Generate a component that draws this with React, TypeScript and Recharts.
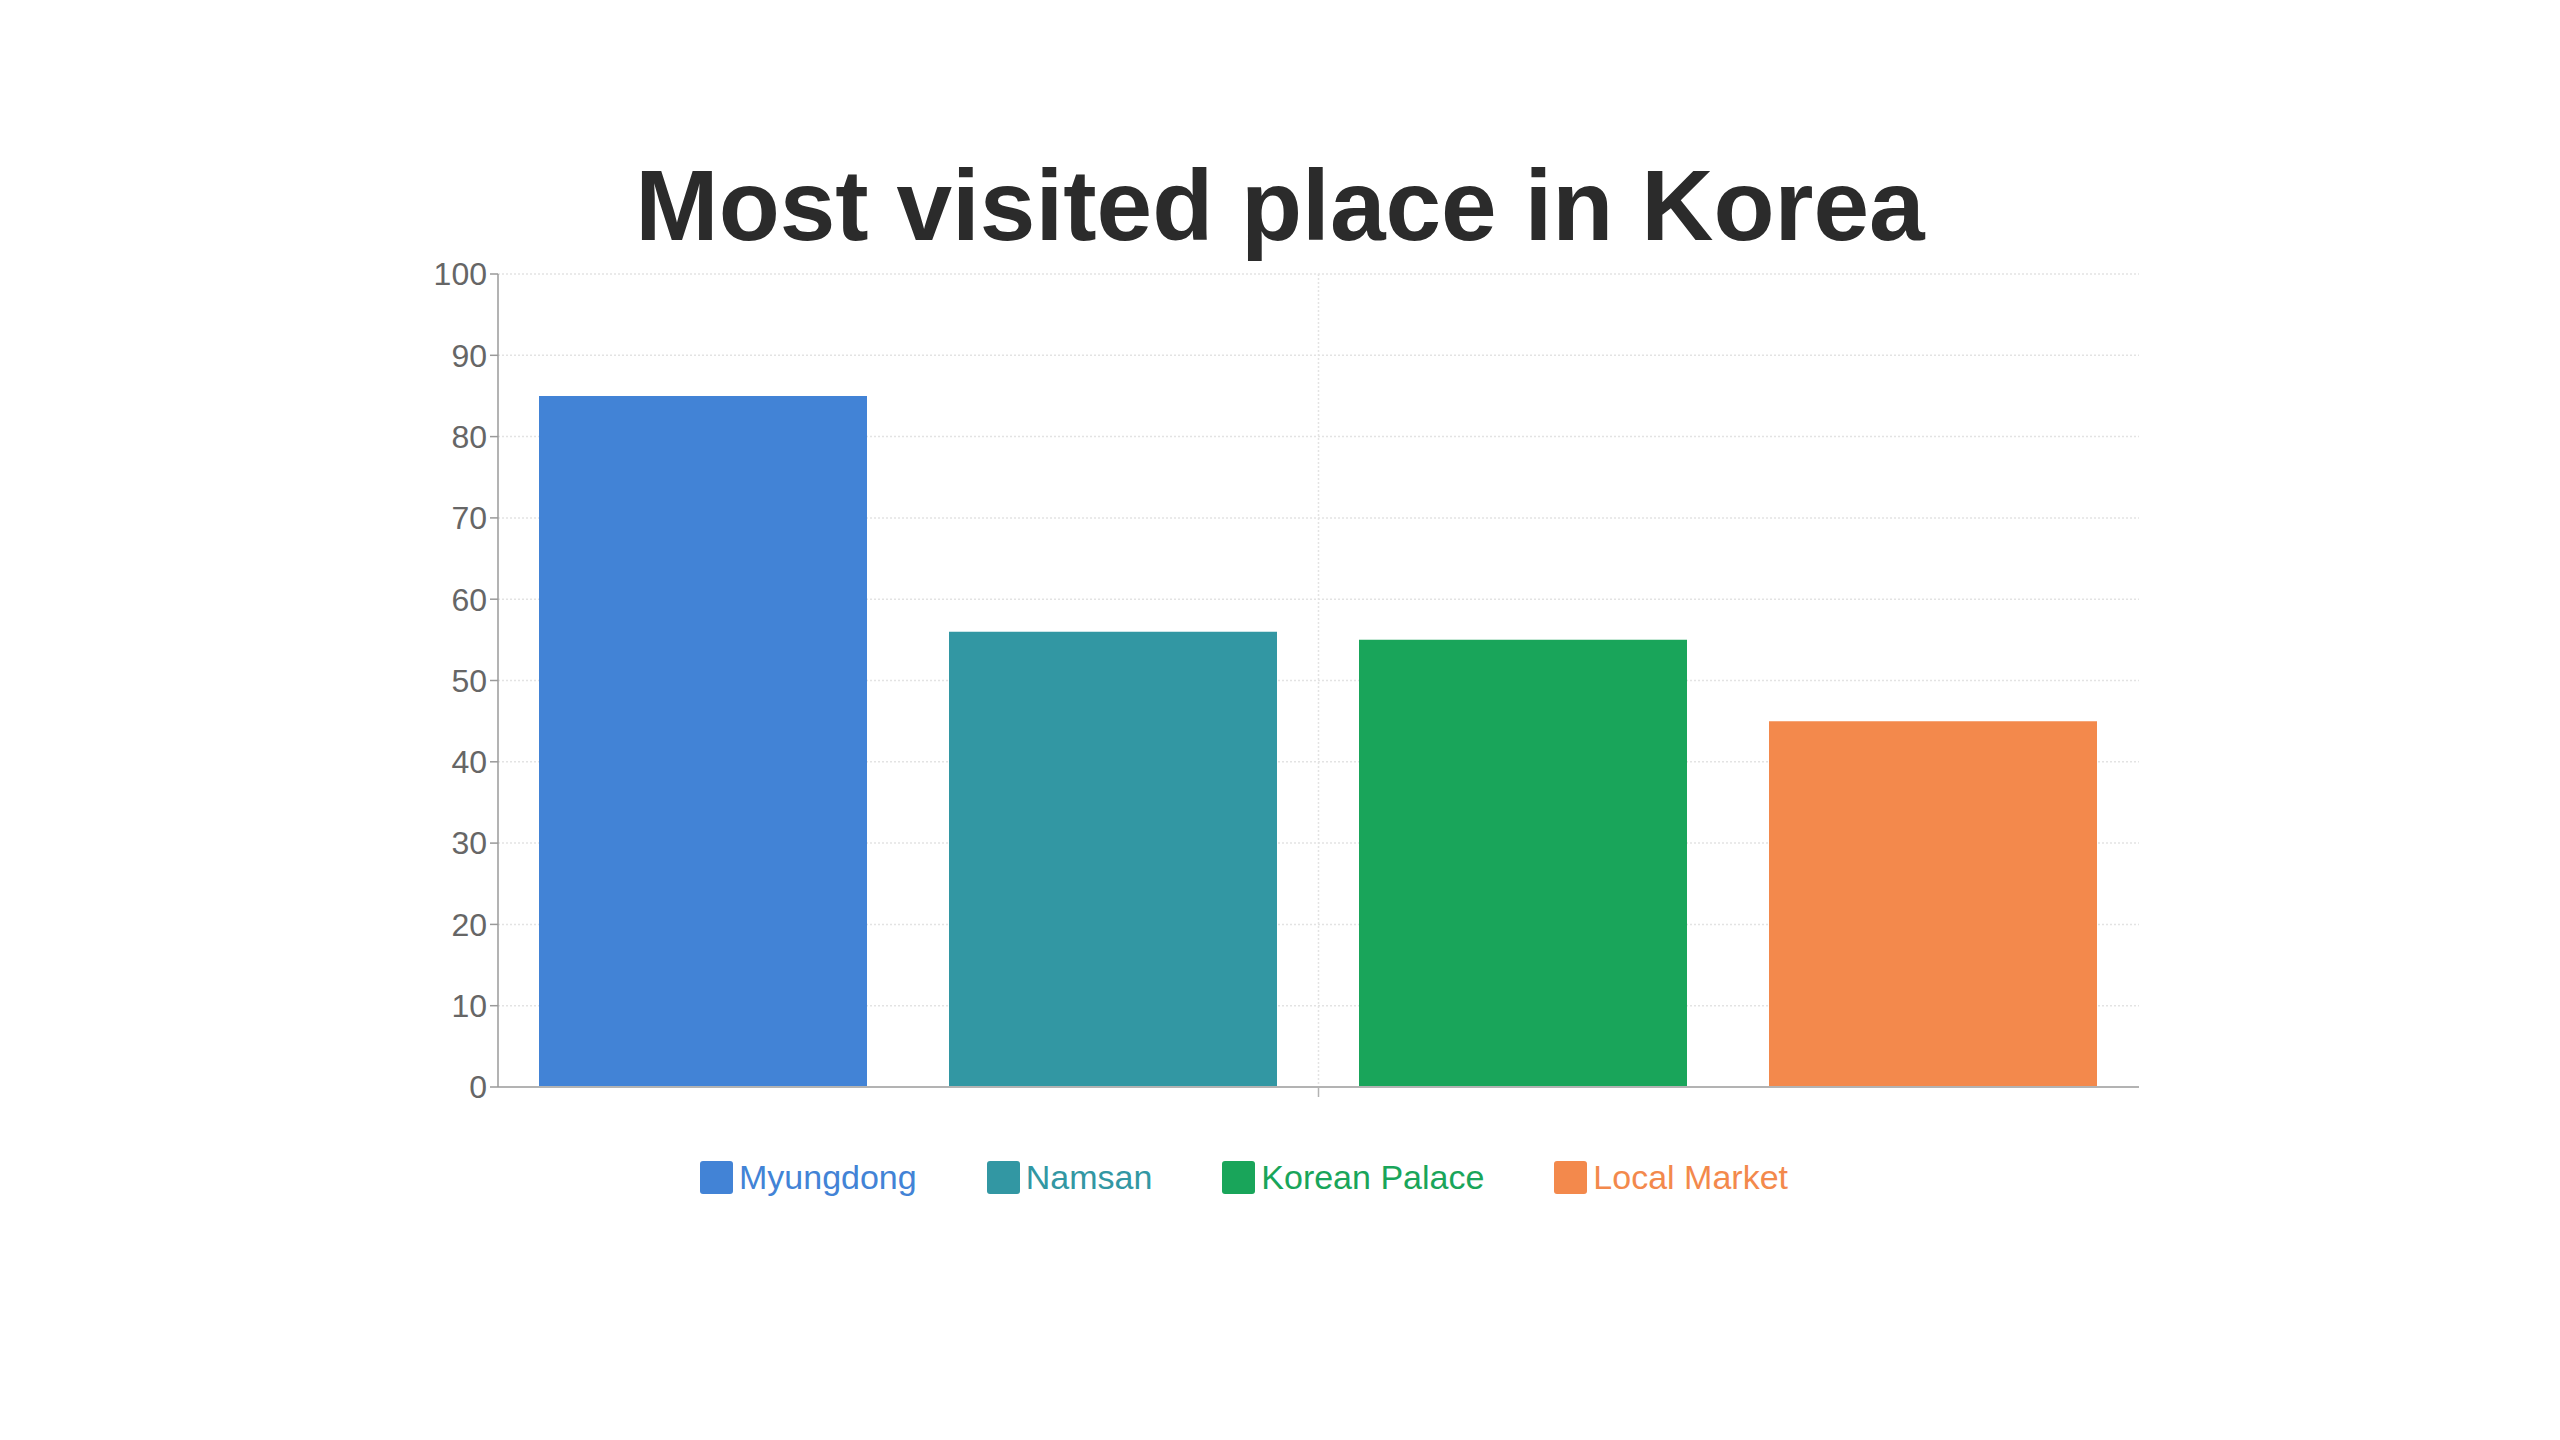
import React from 'react';
import { BarChart, Bar, XAxis, YAxis, CartesianGrid } from 'recharts';

const categories: string[] = [''];
const seriesNames: string[] = ['Myungdong', 'Namsan', 'Korean Palace', 'Local Market'];
const seriesValues: number[] = [85, 56, 55, 45];
const seriesColors: string[] = ['#4283d6', '#3297a3', '#19a55a', '#f3894c'];
const yTicks: number[] = [0, 10, 20, 30, 40, 50, 60, 70, 80, 90, 100];
const title = 'Most visited place in Korea';

const data = categories.map((c) => {
  const row: Record<string, string | number> = { name: c };
  seriesNames.forEach((s, i) => {
    row[s] = seriesValues[i];
  });
  return row;
});

const FONT = '"Liberation Sans", Arial, Helvetica, sans-serif';

export default function App() {
  return (
    <div
      style={{
        position: 'absolute',
        left: 0,
        top: 0,
        width: 2560,
        height: 1440,
        background: '#ffffff',
        fontFamily: FONT,
        overflow: 'hidden',
      }}
    >
      <div
        style={{
          position: 'absolute',
          left: 0,
          top: 155,
          width: 2560,
          textAlign: 'center',
          fontSize: 100,
          lineHeight: '100px',
          fontWeight: 700,
          color: '#2b2b2b',
        }}
      >
        {title}
      </div>
      <div style={{ position: 'absolute', left: 0, top: 0 }}>
        <BarChart
          width={2560}
          height={1440}
          data={data}
          margin={{ top: 274, right: 421, bottom: 333, left: 418 }}
          barCategoryGap={41}
          barGap={82}
        >
          <CartesianGrid
            stroke="#e3e3e3"
            strokeDasharray="2 2"
            strokeWidth={1.5}
            verticalCoordinatesGenerator={(args: any) => {
              const o = args && args.offset;
              if (o) return categories.map((_, i) => o.left + (o.width / categories.length) * (i + 0.5));
              return [];
            }}
          />
          <XAxis
            dataKey="name"
            height={20}
            axisLine={{ stroke: '#b3b3b3', strokeWidth: 2 }}
            tickLine={{ stroke: '#b3b3b3', strokeWidth: 1.5 }}
            tickSize={10}
            tick={{ fontSize: 32, fill: '#666666', fontFamily: FONT }}
          />
          <YAxis
            type="number"
            domain={[0, 100]}
            ticks={yTicks}
            interval={0}
            width={80}
            tickSize={8}
            tickMargin={3}
            axisLine={{ stroke: '#9a9a9a', strokeWidth: 1.5 }}
            tickLine={{ stroke: '#9a9a9a', strokeWidth: 1.5 }}
            tick={{ fontSize: 32, fill: '#666666', fontFamily: FONT }}
          />
          {seriesNames.map((s, i) => (
            <Bar key={s} dataKey={s} fill={seriesColors[i]} isAnimationActive={false} />
          ))}
        </BarChart>
      </div>
      <div
        style={{
          position: 'absolute',
          left: 700,
          top: 1160,
          height: 34,
          display: 'flex',
          alignItems: 'center',
          gap: 70,
          whiteSpace: 'nowrap',
        }}
      >
        {seriesNames.map((s, i) => (
          <div key={s} style={{ display: 'flex', alignItems: 'center' }}>
            <div
              style={{
                width: 33,
                height: 33,
                borderRadius: 3,
                background: seriesColors[i],
                marginRight: 6,
              }}
            />
            <span style={{ fontSize: 34, lineHeight: '34px', color: seriesColors[i] }}>{s}</span>
          </div>
        ))}
      </div>
    </div>
  );
}
